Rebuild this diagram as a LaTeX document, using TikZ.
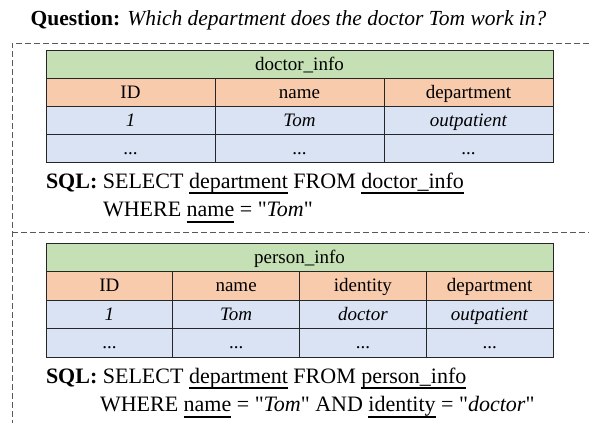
\documentclass[tikz,border=0pt]{standalone}
\usepackage{fontspec}
\setmainfont{Liberation Serif}[Ligatures=TeXOff]
\usetikzlibrary{positioning}

\definecolor{titlegreen}{HTML}{C5E0B4}
\definecolor{headorange}{HTML}{F8CBAD}
\definecolor{rowblue}{HTML}{DAE3F3}
\definecolor{framegray}{HTML}{595959}
% underline used in the SQL lines
\newcommand{\sqlul}[1]{\setbox0=\hbox{#1}\rlap{\rule[-6pt]{\wd0}{2pt}}\box0\relax}

\begin{document}
\begin{tikzpicture}[
  x=1pt, y=-1pt,
  every node/.style={inner sep=0pt, outer sep=0pt},
  cell/.style={draw=black!85, line width=0.8pt, anchor=north west,
    minimum height=28pt, text height=14pt, text depth=2pt,
    font=\fontsize{19}{21}\selectfont},
  titlecell/.style={cell, fill=titlegreen},
  headcell/.style={cell, fill=headorange},
  datacell/.style={cell, fill=rowblue},
  sqltext/.style={anchor=base west, font=\fontsize{22}{24}\selectfont},
  frame/.style={draw=framegray, dash pattern=on 6pt off 3pt, line width=0.8pt},
  ]
  \useasboundingbox (0,0) rectangle (589,423);

  \node[anchor=base, font=\fontsize{21.5}{24}\selectfont] (question) at (288.5,25)
    {\textbf{Question:} \textit{Which department does the doctor Tom work in?}};

  % dashed frame
  \coordinate (frameTopL) at (12,43);
  \coordinate (frameTopR) at (589,43);
  \coordinate (frameMidL) at (12,232);
  \coordinate (frameMidR) at (589,232);
  \coordinate (frameBot)  at (12,423);
  \path[frame] (frameTopR) -- (frameTopL) -- (frameBot);
  \path[frame] (frameMidL) -- (frameMidR);

  % doctor_info table
  \node[titlecell, minimum width=507pt] (doctorTitle) at (46,50) {doctor\_info};
  \foreach \txt [count=\i from 0] in {ID,name,department}
    \node[headcell, minimum width=169pt] (doctorHead\i) at (46+169*\i,78) {\txt};
  \foreach \txt [count=\i from 0] in {\textit{1},\textit{Tom},\textit{outpatient}}
    \node[datacell, minimum width=169pt] (doctorRowA\i) at (46+169*\i,106) {\txt};
  \foreach \i in {0,1,2}
    \node[datacell, minimum width=169pt] (doctorRowB\i) at (46+169*\i,134) {...};

  \node[sqltext] (doctorSql) at (46,188)
    {\textbf{SQL:} SELECT \sqlul{department} FROM \sqlul{doctor\_info}};
  \node[sqltext] (doctorWhere) at ([shift={(57,28.5)}]doctorSql.base west)
    {WHERE \sqlul{name} = "\textit{Tom}"};

  % person_info table
  \node[titlecell, minimum width=507pt, minimum height=28.5pt] (personTitle) at (46,243) {person\_info};
  \foreach \txt [count=\i from 0] in {ID,name,identity,department}
    \node[headcell, minimum width=126.75pt, minimum height=28.5pt] (personHead\i) at (46+126.75*\i,271.5) {\txt};
  \foreach \txt [count=\i from 0] in {\textit{1},\textit{Tom},\textit{doctor},\textit{outpatient}}
    \node[datacell, minimum width=126.75pt, minimum height=28.5pt] (personRowA\i) at (46+126.75*\i,300) {\txt};
  \foreach \i in {0,1,2,3}
    \node[datacell, minimum width=126.75pt, minimum height=28.5pt] (personRowB\i) at (46+126.75*\i,328.5) {...};

  \node[sqltext] (personSql) at (46,383)
    {\textbf{SQL:} SELECT \sqlul{department} FROM \sqlul{person\_info}};
  \node[sqltext] (personWhere) at ([shift={(54,28.5)}]personSql.base west)
    {WHERE \sqlul{name} = "\textit{Tom}" AND \sqlul{identity} = "\textit{doctor}"};
\end{tikzpicture}
\end{document}
